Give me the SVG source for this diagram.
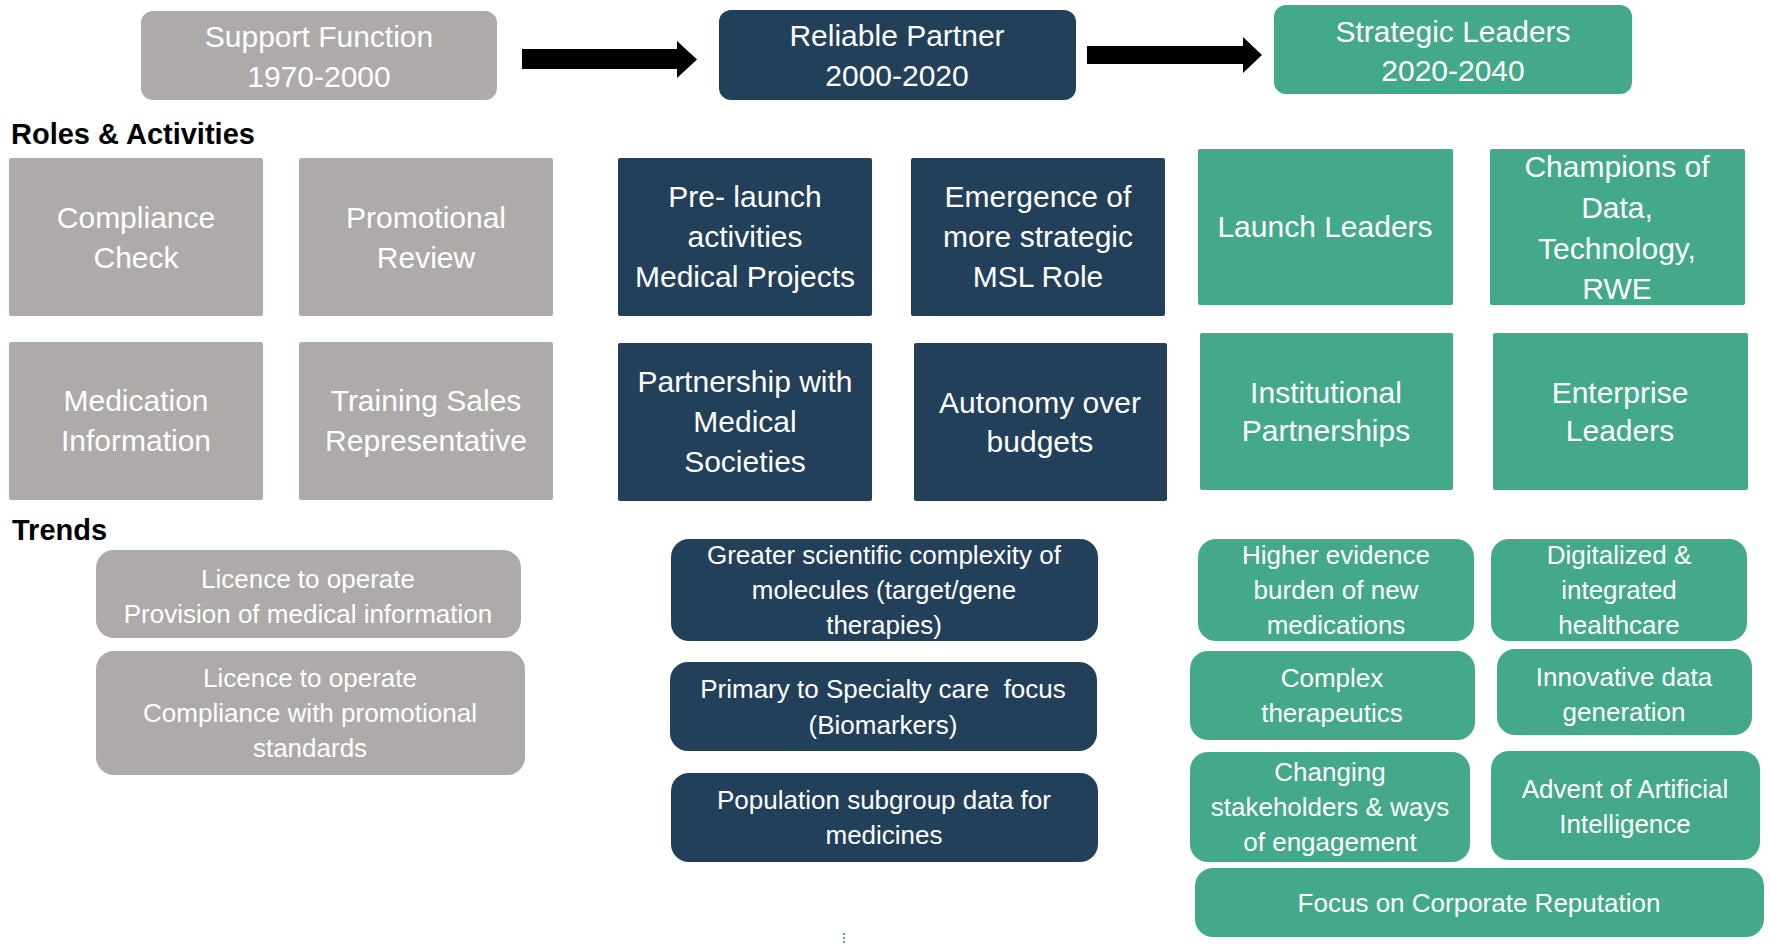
<svg xmlns="http://www.w3.org/2000/svg" width="1770" height="946" viewBox="0 0 1770 946">
<style>
text{font-family:"Liberation Sans",Arial,sans-serif;fill:#ffffff;text-anchor:middle}
.h{font-size:30px}
.r{font-size:30px}
.t{font-size:26px}
.lbl{font-size:29px;font-weight:bold;fill:#000000;text-anchor:start}
.gray{fill:#ADAAA9}
.navy{fill:#22405A}
.teal{fill:#44A98A}
.arrow{fill:#000000}
</style>
<rect width="1770" height="946" fill="#ffffff"/>

<g id="connectors">
<polygon class="arrow" points="522,49 677,49 677,41 697,59.5 677,78 677,69 522,69"/>
<polygon class="arrow" points="1087,46 1243,46 1243,37 1262,55 1243,73 1243,64 1087,64"/>
</g>

<g id="support"><rect class="gray" x="141" y="11" width="356" height="89" rx="12"/>
<text class="h" x="319" y="47">Support Function</text><text class="h" x="319" y="87">1970-2000</text></g>
<g id="reliable"><rect class="navy" x="719" y="10" width="357" height="90" rx="12"/>
<text class="h" x="897" y="46">Reliable Partner</text><text class="h" x="897" y="86">2000-2020</text></g>
<g id="strategic"><rect class="teal" x="1274" y="5" width="358" height="89" rx="12"/>
<text class="h" x="1453" y="42">Strategic Leaders</text><text class="h" x="1453" y="81">2020-2040</text></g>

<g id="label-roles"><text class="lbl" x="11" y="144">Roles &amp; Activities</text></g>
<g id="label-trends"><text class="lbl" x="12" y="540">Trends</text></g>

<g id="compliance"><rect class="gray" x="9" y="158" width="254" height="158" rx="2"/>
<text class="r" x="136" y="228">Compliance</text><text class="r" x="136" y="268">Check</text></g>
<g id="promotional"><rect class="gray" x="299" y="158" width="254" height="158" rx="2"/>
<text class="r" x="426" y="228">Promotional</text><text class="r" x="426" y="268">Review</text></g>
<g id="prelaunch"><rect class="navy" x="618" y="158" width="254" height="158" rx="2"/>
<text class="r" x="745" y="207" xml:space="preserve">Pre- launch</text><text class="r" x="745" y="247">activities</text><text class="r" x="745" y="287">Medical Projects</text></g>
<g id="emergence"><rect class="navy" x="911" y="158" width="254" height="158" rx="2"/>
<text class="r" x="1038" y="207">Emergence of</text><text class="r" x="1038" y="247">more strategic</text><text class="r" x="1038" y="287">MSL Role</text></g>
<g id="launch"><rect class="teal" x="1198" y="149" width="255" height="156" rx="2"/>
<text class="r" x="1325" y="237">Launch Leaders</text></g>
<g id="champions"><rect class="teal" x="1490" y="149" width="255" height="156" rx="2"/>
<text class="r" x="1617" y="177">Champions of</text><text class="r" x="1617" y="218">Data,</text><text class="r" x="1617" y="259">Technology,</text><text class="r" x="1617" y="299">RWE</text></g>

<g id="medication"><rect class="gray" x="9" y="342" width="254" height="158" rx="2"/>
<text class="r" x="136" y="411">Medication</text><text class="r" x="136" y="451">Information</text></g>
<g id="training"><rect class="gray" x="299" y="342" width="254" height="158" rx="2"/>
<text class="r" x="426" y="411">Training Sales</text><text class="r" x="426" y="451">Representative</text></g>
<g id="partnership"><rect class="navy" x="618" y="343" width="254" height="158" rx="2"/>
<text class="r" x="745" y="392">Partnership with</text><text class="r" x="745" y="432">Medical</text><text class="r" x="745" y="472">Societies</text></g>
<g id="autonomy"><rect class="navy" x="914" y="343" width="253" height="158" rx="2"/>
<text class="r" x="1040" y="413">Autonomy over</text><text class="r" x="1040" y="452">budgets</text></g>
<g id="institutional"><rect class="teal" x="1200" y="333" width="253" height="157" rx="2"/>
<text class="r" x="1326" y="403">Institutional</text><text class="r" x="1326" y="441">Partnerships</text></g>
<g id="enterprise"><rect class="teal" x="1493" y="333" width="255" height="157" rx="2"/>
<text class="r" x="1620" y="403">Enterprise</text><text class="r" x="1620" y="441">Leaders</text></g>

<g id="licence1"><rect class="gray" x="96" y="550" width="425" height="88" rx="18"/>
<text class="t" x="308" y="588">Licence to operate</text><text class="t" x="308" y="623">Provision of medical information</text></g>
<g id="licence2"><rect class="gray" x="96" y="651" width="429" height="124" rx="18"/>
<text class="t" x="310" y="687">Licence to operate</text><text class="t" x="310" y="722">Compliance with promotional</text><text class="t" x="310" y="757">standards</text></g>

<g id="greater"><rect class="navy" x="671" y="539" width="427" height="102" rx="18"/>
<text class="t" x="884" y="564">Greater scientific complexity of</text><text class="t" x="884" y="599">molecules (target/gene</text><text class="t" x="884" y="634">therapies)</text></g>
<g id="primary"><rect class="navy" x="670" y="662" width="427" height="89" rx="18"/>
<text class="t" x="883" y="698" xml:space="preserve">Primary to Specialty care  focus</text><text class="t" x="883" y="734">(Biomarkers)</text></g>
<g id="population"><rect class="navy" x="671" y="773" width="427" height="89" rx="18"/>
<text class="t" x="884" y="809">Population subgroup data for</text><text class="t" x="884" y="844">medicines</text></g>

<g id="higher"><rect class="teal" x="1198" y="539" width="276" height="102" rx="18"/>
<text class="t" x="1336" y="564">Higher evidence</text><text class="t" x="1336" y="599">burden of new</text><text class="t" x="1336" y="634">medications</text></g>
<g id="digitalized"><rect class="teal" x="1491" y="539" width="256" height="102" rx="18"/>
<text class="t" x="1619" y="564">Digitalized &amp;</text><text class="t" x="1619" y="599">integrated</text><text class="t" x="1619" y="634">healthcare</text></g>
<g id="complex"><rect class="teal" x="1190" y="651" width="285" height="89" rx="18"/>
<text class="t" x="1332" y="687">Complex</text><text class="t" x="1332" y="722">therapeutics</text></g>
<g id="innovative"><rect class="teal" x="1497" y="649" width="255" height="86" rx="18"/>
<text class="t" x="1624" y="686">Innovative data</text><text class="t" x="1624" y="721">generation</text></g>
<g id="changing"><rect class="teal" x="1190" y="752" width="280" height="110" rx="18"/>
<text class="t" x="1330" y="781">Changing</text><text class="t" x="1330" y="816">stakeholders &amp; ways</text><text class="t" x="1330" y="851">of engagement</text></g>
<g id="advent"><rect class="teal" x="1491" y="751" width="269" height="109" rx="18"/>
<text class="t" x="1625" y="798">Advent of Artificial</text><text class="t" x="1625" y="833">Intelligence</text></g>
<g id="focus"><rect class="teal" x="1195" y="868" width="569" height="69" rx="18"/>
<text class="t" x="1479" y="912">Focus on Corporate Reputation</text></g>

<line x1="844" y1="933" x2="844" y2="945" stroke="#4FA3C8" stroke-width="2" stroke-dasharray="2 2"/>
</svg>
